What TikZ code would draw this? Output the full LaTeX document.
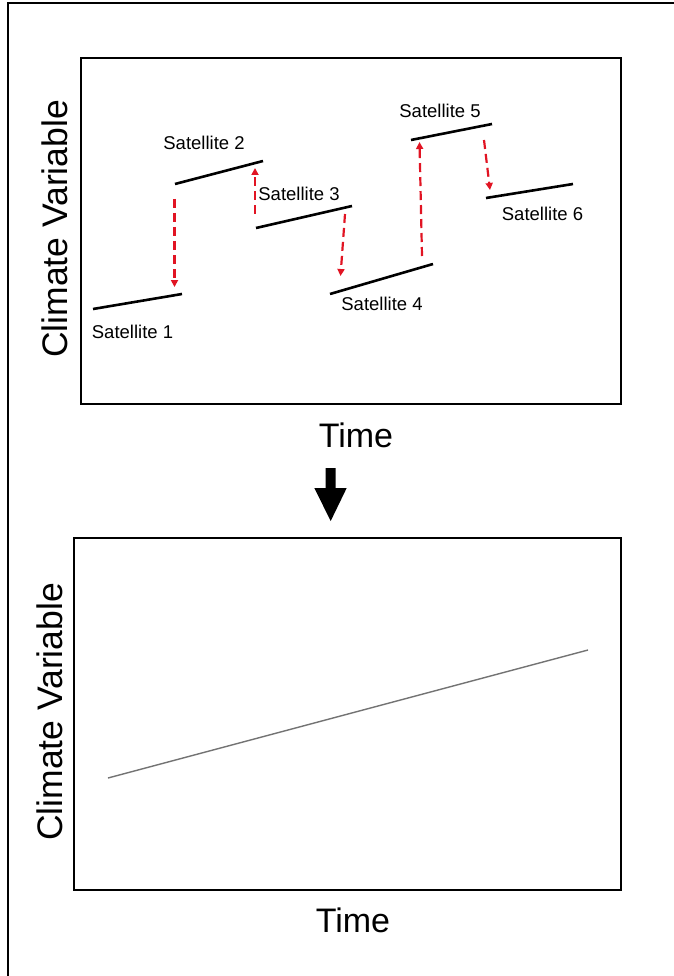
\documentclass[tikz,border=0pt]{standalone}
\usepackage{fontspec}
\setmainfont{Liberation Sans}
\usetikzlibrary{arrows.meta}
\definecolor{jumpred}{RGB}{225,20,35}
\tikzset{
  frameline/.style={line width=2.2pt, black},
  panel/.style={line width=2pt, black},
  segline/.style={line width=2.6pt, black},
  jump/.style={line width=2.2pt, jumpred, dash pattern=on 9pt off 5pt, -{Triangle[length=7pt,width=7pt]}},
  satlabel/.style={inner sep=0pt, font=\fontsize{18.5}{20}\selectfont},
  axlabel/.style={inner sep=0pt, font=\fontsize{34}{36}\selectfont},
  vlabel/.style={inner sep=0pt, rotate=90, font=\fontsize{35.5}{38}\selectfont},
}
\begin{document}
\begin{tikzpicture}[x=1pt,y=-1pt]
\useasboundingbox (0,0) rectangle (673,976);
\fill[white] (0,0) rectangle (673,976);
% outer frame (cut by the page at right and bottom)
\draw[frameline] (8,980) -- (8,3) -- (680,3);
% top panel
\draw[panel] (81,58) rectangle (621,404);
\node[vlabel] (cv1) at (55,229) {Climate Variable};
\node[axlabel] (t1) at (356,435) {Time};
% satellite segments
\coordinate (s1a) at (93,309);  \coordinate (s1b) at (182,294);
\coordinate (s2a) at (175,184); \coordinate (s2b) at (263,161);
\coordinate (s3a) at (256,228); \coordinate (s3b) at (352,206);
\coordinate (s4a) at (330,294); \coordinate (s4b) at (433,264);
\coordinate (s5a) at (411,140); \coordinate (s5b) at (492,124);
\coordinate (s6a) at (486,198); \coordinate (s6b) at (573,184);
\draw[segline] (s1a) -- (s1b);
\draw[segline] (s2a) -- (s2b);
\draw[segline] (s3a) -- (s3b);
\draw[segline] (s4a) -- (s4b);
\draw[segline] (s5a) -- (s5b);
\draw[segline] (s6a) -- (s6b);
\node[satlabel] (l1) at (132.5,331.5) {Satellite 1};
\node[satlabel] (l2) at (204,142.5) {Satellite 2};
\node[satlabel] (l3) at (299,194) {Satellite 3};
\node[satlabel] (l4) at (382,304) {Satellite 4};
\node[satlabel] (l5) at (440,110.5) {Satellite 5};
\node[satlabel] (l6) at (542.5,214) {Satellite 6};
% jump arrows
\coordinate (j1a) at (174.5,199); \coordinate (j1b) at (174.5,287);
\coordinate (j2a) at (255,214);   \coordinate (j2b) at (255,168);
\coordinate (j3a) at (345,214);   \coordinate (j3b) at (340.5,276);
\coordinate (j4a) at (422,256);   \coordinate (j4b) at (419.5,142);
\coordinate (j5a) at (484,140);   \coordinate (j5b) at (490,190);
\draw[jump] (j1a) -- (j1b);
\draw[jump] (j2a) -- (j2b);
\draw[jump] (j3a) -- (j3b);
\draw[jump] (j4a) -- (j4b);
\draw[jump] (j5a) -- (j5b);
% big down arrow
\coordinate (bb) at (330.7,521);
\fill[black] (325.7,468) -- (335.7,468) -- (335.7,488) -- (346.7,488) -- (bb) -- (314.3,488) -- (325.7,488) -- cycle;
% bottom panel
\draw[panel] (74,538) rectangle (621,890);
\node[vlabel] (cv2) at (50,712) {Climate Variable};
\node[axlabel] (t2) at (353,920.5) {Time};
\coordinate (tr1) at (108,778);
\coordinate (tr2) at (588,650);
\draw[line width=1.4pt, black!55] (tr1) -- (tr2);
\end{tikzpicture}
\end{document}
